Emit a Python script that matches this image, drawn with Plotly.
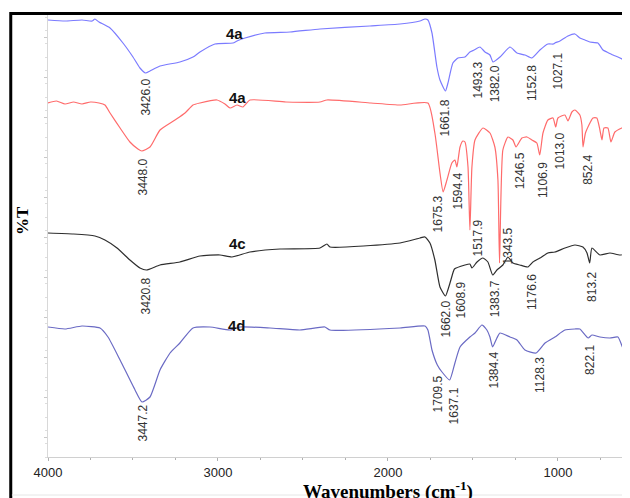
import plotly.graph_objects as go

# ---------------- data (wavenumber cm-1, relative %T units) ----------------
wn_4a_top = [4000, 3900, 3800, 3740, 3724, 3700, 3635, 3559, 3500, 3459, 3426, 3400, 3341, 3224,
             3147, 3106, 3018, 2912, 2888, 2841, 2724, 2576, 2400, 2106, 1929, 1812, 1782, 1765,
             1741, 1712, 1694, 1661.8, 1647, 1618, 1588, 1547, 1518, 1493, 1459, 1429, 1400, 1382,
             1341, 1282, 1241, 1194, 1152.8, 1106, 1059, 1027, 1018, 988, 941, 900, 871, 841, 812,
             765, 735, 712, 676, 647, 606, 576]
t_4a_top = [437, 436, 437, 436, 438, 435, 429, 414, 400, 389, 384, 386, 391, 395,
            400, 405, 413, 414, 416, 419, 424, 425, 428, 431, 433, 436, 438, 437,
            424, 390, 377, 366, 374, 394, 399, 400, 405, 407, 410, 405, 402, 395,
            400, 410, 404, 402, 399, 407, 413, 413, 414, 416, 421, 423, 419, 417, 415,
            414, 407, 405, 402, 400, 397, 402]

wn_4a = [4000, 3950, 3900, 3850, 3800, 3750, 3700, 3665, 3635, 3576, 3518, 3471, 3448, 3400, 3341,
         3253, 3194, 3147, 3106, 3006, 2959, 2929, 2888, 2853, 2812, 2600, 2400, 2359, 2100, 1929,
         1765, 1724, 1694, 1675.3, 1653, 1624, 1606, 1594.4, 1576, 1559, 1547, 1529, 1517.9, 1506,
         1488, 1441, 1400, 1371, 1353, 1343.5, 1324, 1294, 1265, 1246.5, 1212, 1182, 1153, 1124,
         1106.9, 1088, 1059, 1029, 1013, 1000, 959, 941, 918, 900, 871, 859, 852.4, 838, 794, 771,
         753, 741, 729, 706, 688, 665, 624, 576]
t_4a = [354, 356, 353, 355, 353, 355, 354, 352, 344, 329, 315, 308, 306, 310, 327,
        337, 344, 352, 354, 357, 353, 349, 352, 350, 357, 355, 355, 357, 354, 352,
        354, 324, 284, 265, 277, 294, 297, 290, 310, 316, 315, 290, 227, 290,
        317, 329, 324, 310, 277, 194, 307, 320, 317, 310, 319, 320, 317, 314,
        302, 324, 337, 339, 330, 339, 342, 336, 345, 347, 342, 332, 310, 324, 339, 339,
        327, 317, 329, 329, 315, 325, 329, 332]

wn_4c = [4000, 3850, 3724, 3665, 3594, 3518, 3459, 3420.8, 3341, 3224, 3106, 2988, 2918, 2812, 2635,
         2400, 2359, 2341, 1929, 1812, 1782, 1753, 1724, 1694, 1662, 1635, 1618, 1608.9, 1547, 1518,
         1506, 1476, 1441, 1412, 1383.7, 1359, 1324, 1294, 1265, 1224, 1176.6, 1147, 1106, 1059,
         1018, 959, 900, 853, 829, 813.2, 800, 753, 694, 635, 576]
t_4c = [224, 223, 221, 217, 209, 197, 189, 187, 192, 195, 201, 202, 200, 205, 208,
        209, 213, 210, 214, 219, 220, 214, 197, 170, 161, 174, 184, 188, 192, 193,
        189, 195, 199, 195, 182, 187, 192, 200, 194, 192, 190, 195, 199, 204,
        205, 209, 212, 210, 204, 194, 209, 202, 204, 202, 204]

wn_4d = [4000, 3900, 3800, 3694, 3647, 3576, 3488, 3447.2, 3400, 3341, 3282, 3224, 3147, 3047,
         2929, 2871, 2694, 2518, 2371, 2341, 1929, 1782, 1765, 1741, 1709.5, 1682, 1637.1, 1606,
         1576, 1518, 1488, 1447, 1418, 1400, 1384.4, 1359, 1341, 1282, 1241, 1194, 1128.3, 1076,
         1018, 959, 900, 871, 822.1, 800, 753, 694, 647, 606, 576]
t_4d = [130, 128, 131, 129, 120, 97, 67, 55, 60, 87, 104, 114, 129, 130,
        127, 130, 129, 127, 130, 127, 129, 131, 127, 107, 92, 85, 77, 94,
        110, 120, 124, 132, 127, 120, 110, 119, 124, 120, 117, 107, 104, 114,
        120, 127, 128, 128, 119, 122, 120, 119, 120, 105, 110]

series_names = ["4a", "4a", "4c", "4d"]
series_colors = ["#7b7bff", "#ff6b6b", "#2e2e2e", "#6a6ac4"]

# peak labels: text, label anchor (wavenumber, %T)
peak_text = ["3426.0", "1661.8", "1493.3", "1382.0", "1152.8", "1027.1",
             "3448.0", "1675.3", "1594.4", "1517.9", "1343.5", "1246.5", "1106.9", "1013.0", "852.4",
             "3420.8", "1662.0", "1608.9", "1383.7", "1176.6", "813.2",
             "3447.2", "1709.5", "1637.1", "1384.4", "1128.3", "822.1"]
peak_x = [3429, 1665, 1476, 1371, 1153, 1000,
          3447, 1706, 1588, 1476, 1294, 1224, 1088, 988, 824,
          3424, 1659, 1576, 1371, 1153, 800,
          3447, 1706, 1612, 1382, 1106, 812]
peak_y = [380, 360, 397, 394, 394, 407,
          300, 264, 287, 239, 232, 307, 297, 327, 304,
          182, 159, 177, 179, 185, 187,
          54, 84, 72, 107, 102, 114]

name_x = [2900, 2888, 2888, 2888]
name_y = [424, 360, 214, 132]

x_tick_vals = [4000, 3000, 2000, 1000]
x_tick_text = ["4000", "3000", "2000", "1000"]

# ---------------- figure ----------------
fig = go.Figure()
for wn, t, c in zip([wn_4a_top, wn_4a, wn_4c, wn_4d], [t_4a_top, t_4a, t_4c, t_4d], series_colors):
    fig.add_trace(go.Scatter(x=wn, y=t, mode="lines",
                             line=dict(color=c, width=1.2, shape="spline", smoothing=0.5),
                             showlegend=False, hoverinfo="skip"))

annotations = []
for txt, px, py in zip(peak_text, peak_x, peak_y):
    annotations.append(dict(x=px, y=py, xref="x", yref="y", text=txt, showarrow=False,
                            textangle=-90, xanchor="center", yanchor="top",
                            font=dict(family="Arial, Liberation Sans", size=12, color="#333333")))
for nm, nx, ny in zip(series_names, name_x, name_y):
    annotations.append(dict(x=nx, y=ny, xref="x", yref="y", text="<b>" + nm + "</b>", showarrow=False,
                            xanchor="center", yanchor="middle",
                            font=dict(family="Arial, Liberation Sans", size=15, color="#111111")))
annotations.append(dict(x=0.585, y=-0.075, xref="paper", yref="paper",
                        text="<b>Wavenumbers (cm<sup>-1</sup>)</b>", showarrow=False,
                        xanchor="center", yanchor="middle",
                        font=dict(family="Liberation Serif, Times New Roman", size=19, color="#000000")))
annotations.append(dict(x=-0.045, y=0.536, xref="paper", yref="paper",
                        text="<b>%T</b>", showarrow=False, textangle=-90,
                        xanchor="center", yanchor="middle",
                        font=dict(family="Liberation Serif, Times New Roman", size=17, color="#000000")))

# the page body adds an 8px offset, so the figure is 8px smaller than the window
fig.update_layout(
    width=622, height=490,
    margin=dict(l=40, r=0, t=7, b=41),
    paper_bgcolor="white", plot_bgcolor="white",
    annotations=annotations,
    shapes=[
        dict(type="rect", xref="paper", yref="paper", x0=-0.064, x1=1.2, y0=-0.3, y1=1.0034,
             line=dict(color="black", width=3), fillcolor="rgba(0,0,0,0)", layer="below"),
        dict(type="line", xref="paper", yref="paper", x0=-0.062, x1=1.2, y0=-0.086, y1=-0.086,
             line=dict(color="#e6e6e6", width=1)),
    ],
)
fig.update_xaxes(range=[4000, 576], tickvals=x_tick_vals, ticktext=x_tick_text,
                 showgrid=False, zeroline=False, showline=True, linecolor="#d0d0d0", linewidth=1,
                 ticks="outside", ticklen=3, tickcolor="#b0b0b0",
                 minor=dict(dtick=250, ticks="outside", ticklen=2, tickcolor="#b0b0b0"),
                 tickfont=dict(family="Arial, Liberation Sans", size=13, color="#222222"))
fig.update_yaxes(range=[0, 442], showticklabels=False, showgrid=False, zeroline=False,
                 showline=True, linecolor="#d8d8d8", linewidth=1,
                 tickvals=[20, 60, 100, 140, 180, 220, 260, 300, 340, 380, 420],
                 ticks="outside", ticklen=3, tickcolor="#c8c8c8",
                 minor=dict(dtick=13.33, ticks="outside", ticklen=2, tickcolor="#dddddd"))

fig.write_html("out.html")
